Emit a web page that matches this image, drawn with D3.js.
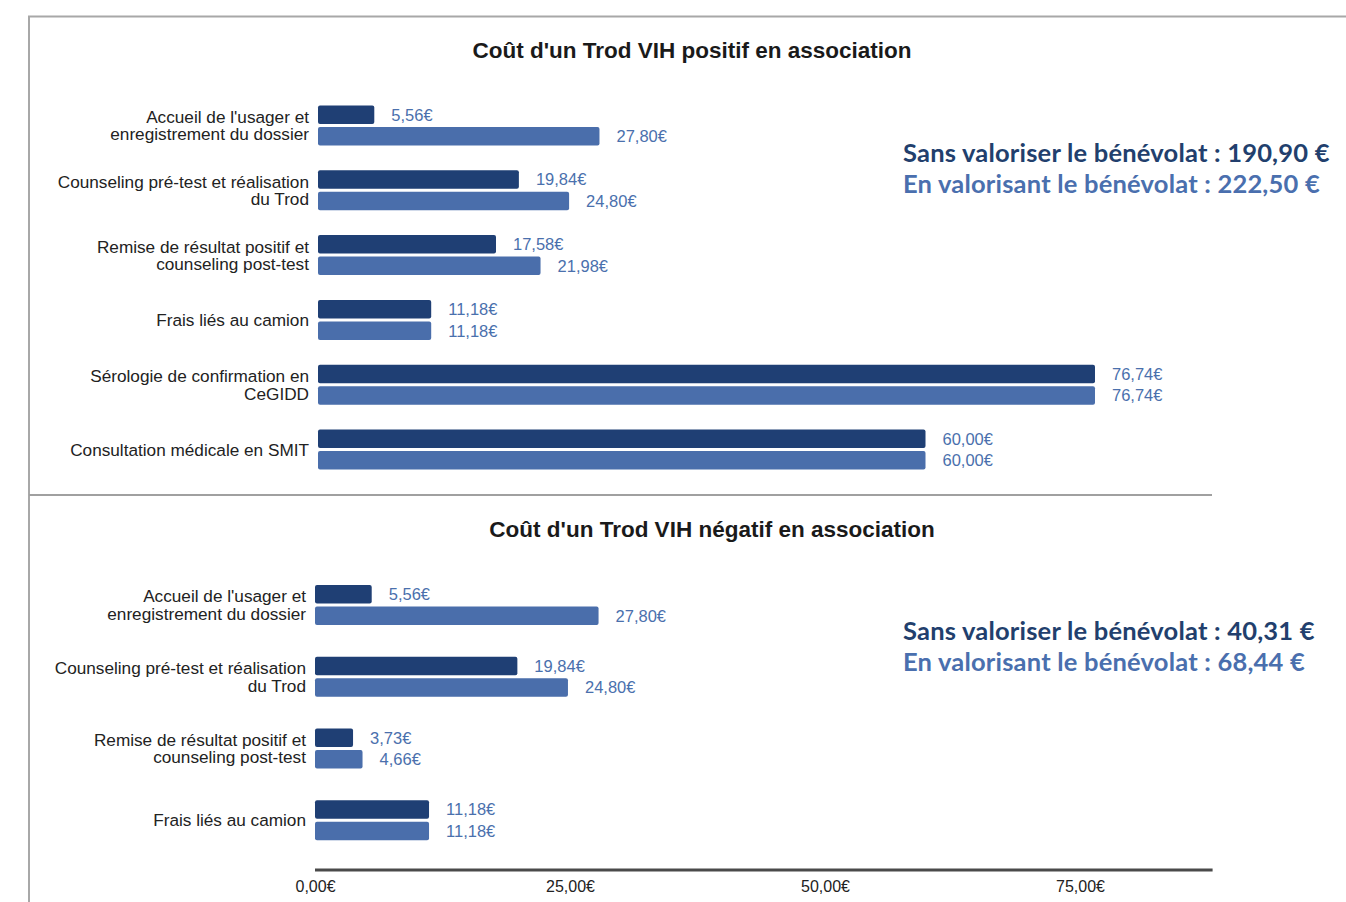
<!DOCTYPE html>
<html>
<head>
<meta charset="utf-8">
<script src="https://cdn.jsdelivr.net/npm/d3@7/dist/d3.min.js"></script>
<style>
  html, body { margin: 0; padding: 0; background: #fff; }
  svg { display: block; }
</style>
</head>
<body>
<svg id="chart" width="1346" height="902"></svg>
<script>
// Cost breakdown of an HIV rapid test (Trod) carried out by an association
const positiveCategories = [
  ["Accueil de l'usager et", "enregistrement du dossier"],
  ["Counseling pré-test et réalisation", "du Trod"],
  ["Remise de résultat positif et", "counseling post-test"],
  ["Frais liés au camion"],
  ["Sérologie de confirmation en", "CeGIDD"],
  ["Consultation médicale en SMIT"]
];
const positiveWithoutVolunteers = [5.56, 19.84, 17.58, 11.18, 76.74, 60.00];
const positiveWithVolunteers    = [27.80, 24.80, 21.98, 11.18, 76.74, 60.00];

const negativeCategories = [
  ["Accueil de l'usager et", "enregistrement du dossier"],
  ["Counseling pré-test et réalisation", "du Trod"],
  ["Remise de résultat positif et", "counseling post-test"],
  ["Frais liés au camion"]
];
const negativeWithoutVolunteers = [5.56, 19.84, 3.73, 11.18];
const negativeWithVolunteers    = [27.80, 24.80, 4.66, 11.18];

const axisTicks = [0, 25, 50, 75];

const titles = [
  "Coût d'un Trod VIH positif en association",
  "Coût d'un Trod VIH négatif en association"
];
const totalsPositive = ["Sans valoriser le bénévolat :  190,90 €", "En valorisant le bénévolat : 222,50 €"];
const totalsNegative = ["Sans valoriser le bénévolat : 40,31 €", "En valorisant le bénévolat : 68,44 €"];

const DARK = "#1f3f74";
const LIGHT = "#4a6eab";
const LABEL_BLUE = "#4a70ad";
const fmt = v => v.toFixed(2).replace(".", ",") + "€";

const svg = d3.select("#chart");

// frame
svg.append("line").attr("x1", 28).attr("x2", 1346).attr("y1", 16.5).attr("y2", 16.5)
  .attr("stroke", "#a8a8a8").attr("stroke-width", 2);
svg.append("line").attr("x1", 29).attr("x2", 29).attr("y1", 16).attr("y2", 902)
  .attr("stroke", "#a8a8a8").attr("stroke-width", 2);
svg.append("line").attr("x1", 29).attr("x2", 1212).attr("y1", 495).attr("y2", 495)
  .attr("stroke", "#a0a0a0").attr("stroke-width", 2);

function drawPanel(cfg) {
  const g = svg.append("g");
  const x = d3.scaleLinear().domain([0, 88]).range([cfg.x0, cfg.x1]);
  const y = d3.scaleBand().domain(d3.range(cfg.categories.length)).range([cfg.yTop, cfg.yBottom]);
  const barH = 18.5, gap = 3;

  g.append("text")
    .attr("x", cfg.titleX).attr("y", cfg.titleY)
    .attr("text-anchor", "middle")
    .attr("font-family", "Liberation Sans, Arial, sans-serif")
    .attr("font-weight", "bold").attr("font-size", 22.5).attr("fill", "#1a1a1a")
    .text(cfg.title);

  const series = [
    { values: cfg.without, color: DARK, offset: -gap / 2 - barH },
    { values: cfg.with, color: LIGHT, offset: gap / 2 }
  ];

  cfg.categories.forEach((lines, i) => {
    const cy = y(i) + y.bandwidth() / 2;
    const t = g.append("text")
      .attr("text-anchor", "end")
      .attr("font-family", "Liberation Sans, Arial, sans-serif")
      .attr("font-size", 17.2).attr("fill", "#222");
    const lh = 17.5;
    lines.forEach((ln, k) => {
      t.append("tspan").attr("x", cfg.labelX)
        .attr("y", cy + (k - (lines.length - 1) / 2) * lh)
        .attr("dy", "0.36em")
        .text(ln);
    });

    series.forEach(s => {
      const v = s.values[i];
      const by = cy + s.offset;
      g.append("rect")
        .attr("x", x(0)).attr("y", by)
        .attr("width", x(v) - x(0)).attr("height", barH)
        .attr("rx", 2).attr("fill", s.color);
      g.append("text")
        .attr("x", x(v) + 17).attr("y", by + barH / 2)
        .attr("dy", "0.36em")
        .attr("font-family", "Liberation Sans Narrow, Liberation Sans, Arial, sans-serif")
        .attr("font-size", 16.5).attr("fill", LABEL_BLUE)
        .text(fmt(v));
    });
  });

  // totals
  cfg.totals.forEach((txt, k) => {
    g.append("text")
      .attr("x", 903).attr("y", cfg.totalsY + k * 31)
      .attr("font-family", "Lato, Carlito, sans-serif")
      .attr("font-weight", "bold").attr("font-size", 25.5)
      .attr("letter-spacing", 0.2)
      .attr("fill", k === 0 ? "#223f6d" : "#4a6fae")
      .text(txt);
  });

  if (cfg.axis) {
    const axis = d3.axisBottom(x).tickValues(axisTicks).tickSize(0).tickPadding(11).tickFormat(fmt);
    const ag = g.append("g").attr("transform", `translate(0,${cfg.axisY})`).call(axis);
    ag.select(".domain").attr("stroke", "#4a4a4a").attr("stroke-width", 3)
      .attr("d", `M${x(0)},0H${x(88)}`);
    ag.selectAll("text")
      .attr("font-family", "Liberation Sans Narrow, Liberation Sans, Arial, sans-serif")
      .attr("font-size", 16).attr("fill", "#222");
  }
}

drawPanel({
  title: titles[0], titleX: 692, titleY: 58,
  categories: positiveCategories,
  without: positiveWithoutVolunteers, with: positiveWithVolunteers,
  x0: 318, x1: 318 + 10.125 * 88,
  yTop: 93, yBottom: 482, labelX: 309,
  totals: totalsPositive, totalsY: 162,
  axis: false
});

drawPanel({
  title: titles[1], titleX: 712, titleY: 537,
  categories: negativeCategories,
  without: negativeWithoutVolunteers, with: negativeWithVolunteers,
  x0: 315, x1: 315 + 10.2 * 88,
  yTop: 569, yBottom: 856, labelX: 306,
  totals: totalsNegative, totalsY: 640,
  axis: true, axisY: 870
});
</script>
</body>
</html>
